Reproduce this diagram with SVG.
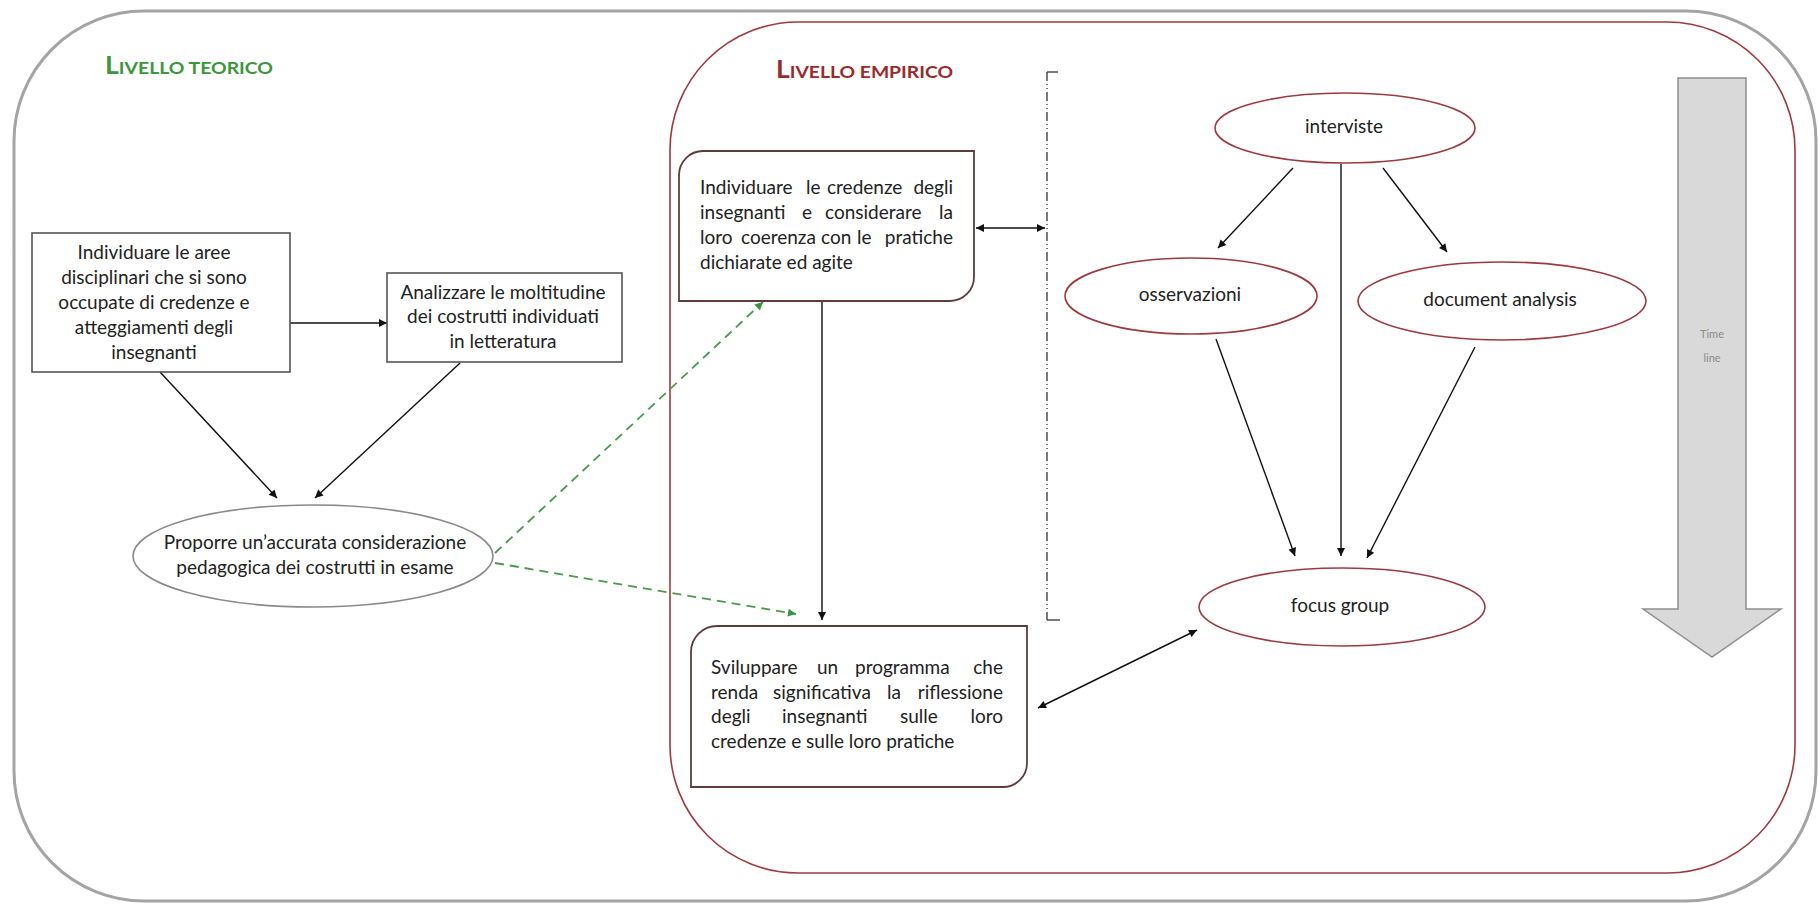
<svg xmlns="http://www.w3.org/2000/svg" width="1818" height="905" viewBox="0 0 1818 905">
  <defs>
    <marker id="ah" viewBox="0 0 10 10" refX="10" refY="5" markerWidth="11" markerHeight="8" markerUnits="userSpaceOnUse" orient="auto-start-reverse">
      <path d="M0,0 L10,5 L0,10 z" fill="#111"/>
    </marker>
    <marker id="ahg" viewBox="0 0 10 10" refX="10" refY="5" markerWidth="11" markerHeight="8" markerUnits="userSpaceOnUse" orient="auto">
      <path d="M0,0 L10,5 L0,10 z" fill="#3a943a"/>
    </marker>
    <style>
      .t { font-family: Lato, "Liberation Sans", sans-serif; font-size: 19px; fill: #222; }
      .c { text-anchor: middle; }
      .box { fill: #fff; stroke: #555; stroke-width: 1.6; }
      .rbox { fill: #fff; stroke: #5e3c3c; stroke-width: 1.8; }
      .rell { fill: #fff; stroke: #9c3b3e; stroke-width: 1.6; }
      .gell { fill: #fff; stroke: #8a8a8a; stroke-width: 1.6; }
      .ln { fill: none; stroke: #111; stroke-width: 1.4; }
      .arr { marker-end: url(#ah); }
      .dbl { marker-start: url(#ah); marker-end: url(#ah); }
      .gd { fill: none; stroke: #4b9a4b; stroke-width: 1.8; stroke-dasharray: 9 6; marker-end: url(#ahg); }
      .title { font-family: Lato, "Liberation Sans", sans-serif; font-weight: bold; }
    </style>
  </defs>

  <rect width="1818" height="905" fill="#fff"/>

  <!-- frames -->
  <g id="frame-teorico">
    <rect x="14" y="11" width="1802" height="890" rx="130" ry="130" fill="none" stroke="#a4a4a4" stroke-width="3"/>
    <text class="title" x="105" y="74" fill="#3b973b" textLength="168" lengthAdjust="spacingAndGlyphs"><tspan font-size="24">L</tspan><tspan font-size="17.5">IVELLO TEORICO</tspan></text>
  </g>
  <g id="frame-empirico">
    <rect x="670" y="22" width="1125" height="851" rx="128" ry="128" fill="none" stroke="#a13a3d" stroke-width="1.6"/>
    <text class="title" x="776" y="78" fill="#9a2a2c" textLength="177" lengthAdjust="spacingAndGlyphs"><tspan font-size="24">L</tspan><tspan font-size="17.5">IVELLO EMPIRICO</tspan></text>
  </g>

  <!-- dash-dot bracket -->
  <g id="bracket" fill="none" stroke="#333" stroke-width="1.3">
    <line x1="1047" y1="72" x2="1047" y2="620" stroke-dasharray="9 3 1 3 1 3"/>
    <line x1="1047" y1="72" x2="1058" y2="72"/>
    <line x1="1047" y1="620" x2="1060" y2="620"/>
  </g>

  <!-- time line arrow -->
  <g id="timeline">
    <polygon points="1678,78 1746,78 1746,609 1781,609 1712,657 1643,609 1678,609" fill="#d9d9d9" stroke="#8f8f8f" stroke-width="1.5"/>
    <text x="1712" y="338" font-family="Lato, 'Liberation Sans', sans-serif" font-size="11" fill="#8a8a8a" text-anchor="middle">Time</text>
    <text x="1712" y="362" font-family="Lato, 'Liberation Sans', sans-serif" font-size="11" fill="#8a8a8a" text-anchor="middle">line</text>
  </g>

  <!-- connectors -->
  <g id="connectors">
    <line class="ln arr" x1="290" y1="323" x2="387" y2="323"/>
    <line class="ln arr" x1="160" y1="372" x2="277" y2="498"/>
    <line class="ln arr" x1="460" y1="363" x2="315" y2="498"/>
    <line class="gd" x1="495" y1="553" x2="763" y2="302"/>
    <line class="gd" x1="495" y1="563" x2="796" y2="614"/>
    <line class="ln arr" x1="822" y1="301" x2="822" y2="620"/>
    <line class="ln dbl" x1="976" y1="228" x2="1045" y2="228"/>
    <line class="ln dbl" x1="1038" y1="708" x2="1197" y2="630"/>
    <line class="ln arr" x1="1293" y1="168" x2="1218" y2="248"/>
    <line class="ln arr" x1="1383" y1="168" x2="1447" y2="252"/>
    <line class="ln arr" x1="1341" y1="164" x2="1341" y2="556"/>
    <line class="ln arr" x1="1216" y1="339" x2="1295" y2="556"/>
    <line class="ln arr" x1="1475" y1="347" x2="1367" y2="558"/>
  </g>

  <!-- left level -->
  <g id="node-aree">
    <rect class="box" x="32" y="233" width="258" height="139"/>
    <text class="t c" x="154" y="259">Individuare le aree</text>
    <text class="t c" x="154" y="284">disciplinari che si sono</text>
    <text class="t c" x="154" y="309">occupate di credenze e</text>
    <text class="t c" x="154" y="334">atteggiamenti degli</text>
    <text class="t c" x="154" y="359">insegnanti</text>
  </g>
  <g id="node-costrutti">
    <rect class="box" x="387" y="273" width="235" height="89"/>
    <text class="t c" x="503" y="299">Analizzare le moltitudine</text>
    <text class="t c" x="503" y="323">dei costrutti individuati</text>
    <text class="t c" x="503" y="348">in letteratura</text>
  </g>
  <g id="node-proporre">
    <ellipse class="gell" cx="313" cy="556" rx="180" ry="51"/>
    <text class="t c" x="315" y="549">Proporre un’accurata considerazione</text>
    <text class="t c" x="315" y="574">pedagogica dei costrutti in esame</text>
  </g>

  <!-- empirical level -->
  <g id="node-credenze">
    <path class="rbox" d="M679,301 L679,175 A24,24 0 0 1 703,151 L974,151 L974,277 A24,24 0 0 1 950,301 Z"/>
    <text class="t" y="194"><tspan x="700">Individuare</tspan><tspan x="806">le</tspan><tspan x="827">credenze</tspan><tspan x="953" text-anchor="end">degli</tspan></text>
    <text class="t" y="219"><tspan x="700">insegnanti</tspan><tspan x="802">e</tspan><tspan x="825">considerare</tspan><tspan x="953" text-anchor="end">la</tspan></text>
    <text class="t" y="244"><tspan x="700">loro</tspan><tspan x="741">coerenza</tspan><tspan x="821">con</tspan><tspan x="857">le</tspan><tspan x="953" text-anchor="end">pratiche</tspan></text>
    <text class="t" x="700" y="269">dichiarate ed agite</text>
  </g>
  <g id="node-programma">
    <path class="rbox" d="M691,787 L691,652 A26,26 0 0 1 717,626 L1027,626 L1027,763 A24,24 0 0 1 1003,787 Z"/>
    <text class="t" y="674"><tspan x="711">Sviluppare</tspan><tspan x="817">un</tspan><tspan x="855">programma</tspan><tspan x="1003" text-anchor="end">che</tspan></text>
    <text class="t" y="699"><tspan x="711">renda</tspan><tspan x="773">significativa</tspan><tspan x="887">la</tspan><tspan x="1003" text-anchor="end">riflessione</tspan></text>
    <text class="t" y="723"><tspan x="711">degli</tspan><tspan x="782">insegnanti</tspan><tspan x="900">sulle</tspan><tspan x="1003" text-anchor="end">loro</tspan></text>
    <text class="t" x="711" y="748">credenze e sulle loro pratiche</text>
  </g>
  <g id="node-interviste">
    <ellipse class="rell" cx="1345" cy="128" rx="130" ry="35"/>
    <text class="t c" x="1344" y="133">interviste</text>
  </g>
  <g id="node-osservazioni">
    <ellipse class="rell" cx="1191" cy="296" rx="126" ry="38"/>
    <text class="t c" x="1190" y="301">osservazioni</text>
  </g>
  <g id="node-document">
    <ellipse class="rell" cx="1502" cy="301" rx="144" ry="39"/>
    <text class="t c" x="1500" y="306">document analysis</text>
  </g>
  <g id="node-focus">
    <ellipse class="rell" cx="1342" cy="607" rx="143" ry="39"/>
    <text class="t c" x="1340" y="612">focus group</text>
  </g>
</svg>
